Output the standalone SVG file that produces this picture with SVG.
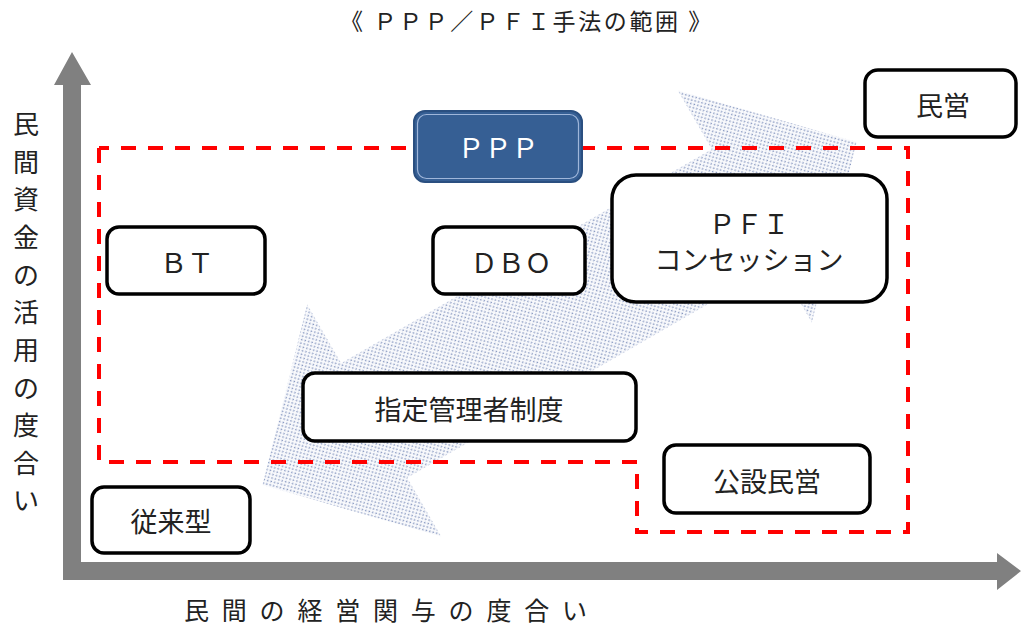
<svg xmlns="http://www.w3.org/2000/svg" width="1022" height="632" viewBox="0 0 1022 632">
<style>
.t{font-family:"Noto Sans CJK JP","Noto Sans",sans-serif;fill:#222;}
.box{fill:#fff;stroke:#000;stroke-width:3.5;}
.lbl{font-size:27px;text-anchor:middle;dominant-baseline:central;}
.axis{fill:#808080;}
</style>
<defs>
<pattern id="dots" width="5" height="5" patternUnits="userSpaceOnUse">
<rect width="5" height="5" fill="#f8f9fc"/>
<circle cx="1.25" cy="1.25" r="0.85" fill="#8193bd"/>
<circle cx="3.75" cy="3.75" r="0.85" fill="#8193bd"/>
</pattern>
</defs>
<rect width="1022" height="632" fill="#fff"/>
<text class="t" x="527" y="30" font-size="23" text-anchor="middle" letter-spacing="2.6" fill="#333">《 ＰＰＰ／ＰＦＩ手法の範囲 》</text>

<g id="axes">
<polygon class="axis" points="63,580 63,85 54,85 72,52 91,85 81,85 81,562 997,562 997,553 1021,571 997,590 997,580"/>
</g>
<text class="t" font-size="26" text-anchor="middle" dominant-baseline="central"><tspan x="26" y="122">民</tspan><tspan x="26" y="160">間</tspan><tspan x="26" y="197">資</tspan><tspan x="26" y="235">金</tspan><tspan x="26" y="273">の</tspan><tspan x="26" y="310">活</tspan><tspan x="26" y="348">用</tspan><tspan x="26" y="386">の</tspan><tspan x="26" y="423">度</tspan><tspan x="26" y="461">合</tspan><tspan x="26" y="498">い</tspan></text>
<text class="t" x="184" y="620" font-size="25" letter-spacing="12.8">民間の経営関与の度合い</text>

<g id="bigarrow">
<polygon fill="url(#dots)" transform="translate(559.5,313.5) rotate(-30)" points="343,0 214,-134 214,-66 -214,-66 -214,-134 -343,0 -214,134 -214,66 214,66 214,134"/>
</g>

<g id="connectors">
<polyline points="99,148 99,462 637,462 637,532 908,532 908,148 99,148" fill="none" stroke="#ff0000" stroke-width="4" stroke-dasharray="15 12"/>
</g>

<g id="minei"><rect class="box" x="865" y="70" width="151" height="67" rx="13"/><text class="t lbl" x="943" y="104">民営</text></g>
<g id="ppp"><rect x="414" y="111" width="168" height="71" rx="11" fill="#365f94" stroke="#2a4f80" stroke-width="2"/><rect x="417.5" y="114.5" width="161" height="64" rx="9" fill="none" stroke="#9fb6da" stroke-width="1.2"/><text class="t lbl" x="498" y="146" font-size="29" style="fill:#fff">ＰＰＰ</text></g>
<g id="bt"><rect class="box" x="107" y="227" width="158" height="67" rx="12"/><text class="t lbl" x="187" y="261">ＢＴ</text></g>
<g id="dbo"><rect class="box" x="433" y="227" width="152" height="67" rx="12"/><text class="t lbl" x="511" y="261">ＤＢＯ</text></g>
<g id="pfi"><rect class="box" x="612" y="175" width="275" height="127" rx="24"/><text class="t lbl" x="749" y="222">ＰＦＩ</text><text class="t lbl" x="749" y="258">コンセッション</text></g>
<g id="shitei"><rect class="box" x="303" y="373" width="333" height="68" rx="12"/><text class="t lbl" x="469" y="408">指定管理者制度</text></g>
<g id="kosetsu"><rect class="box" x="664" y="445" width="206" height="68" rx="12"/><text class="t lbl" x="767" y="480">公設民営</text></g>
<g id="juraigata"><rect class="box" x="92" y="487" width="158" height="66" rx="12"/><text class="t lbl" x="171" y="520">従来型</text></g>
</svg>
